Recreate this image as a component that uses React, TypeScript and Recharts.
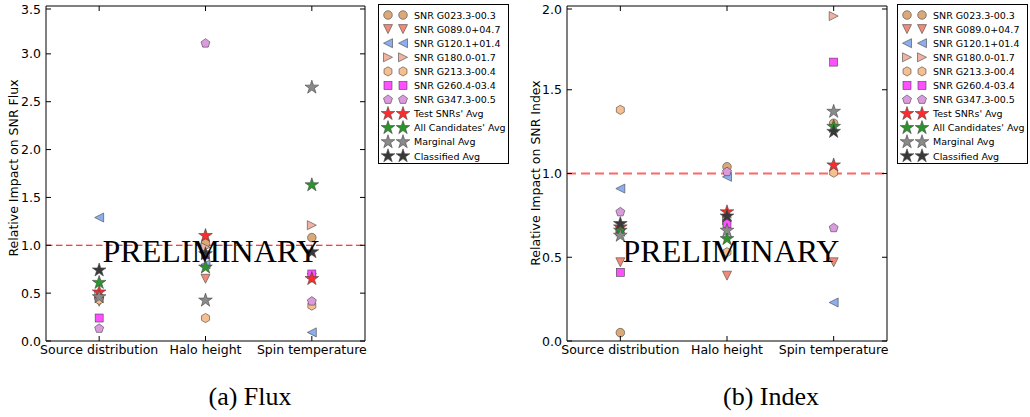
import { ScatterChart, Scatter, XAxis, YAxis, ReferenceLine, ReferenceArea } from 'recharts';

const categories = ['Source distribution', 'Halo height', 'Spin temperature'];
const fluxTicks = [0, 0.5, 1, 1.5, 2, 2.5, 3, 3.5];
const indexTicks = [0, 0.5, 1, 1.5, 2];

// values per category: [source distribution, halo height, spin temperature]
const fluxG023 = [0.45, 1.02, 1.08];
const fluxG089 = [0.41, 0.65, 0.66];
const fluxG120 = [1.29, 0.8, 0.09];
const fluxG180 = [0.48, 0.98, 1.21];
const fluxG213 = [0.43, 0.24, 0.37];
const fluxG260 = [0.24, 0.9, 0.7];
const fluxG347 = [0.13, 3.11, 0.415];
const fluxTestAvg = [0.51, 1.1, 0.65];
const fluxAllAvg = [0.61, 0.77, 1.63];
const fluxMarginalAvg = [0.46, 0.425, 2.65];
const fluxClassifiedAvg = [0.74, 0.91, 0.93];

const indexG023 = [0.05, 1.04, 1.3];
const indexG089 = [0.47, 0.39, 0.47];
const indexG120 = [0.91, 0.98, 0.23];
const indexG180 = [0.66, 0.72, 1.94];
const indexG213 = [1.38, 0.53, 1.005];
const indexG260 = [0.41, 0.7, 1.665];
const indexG347 = [0.77, 1.01, 0.675];
const indexTestAvg = [0.68, 0.77, 1.05];
const indexAllAvg = [0.66, 0.61, 1.28];
const indexMarginalAvg = [0.63, 0.66, 1.37];
const indexClassifiedAvg = [0.7, 0.745, 1.25];

type MarkerKind = 'circle' | 'down' | 'left' | 'right' | 'hexagon' | 'square' | 'pentagon' | 'star';

interface SeriesDef {
  name: string;
  marker: MarkerKind;
  fill: string;
  flux: number[];
  index: number[];
}

const series: SeriesDef[] = [
  { name: 'SNR G023.3-00.3', marker: 'circle', fill: '#dba878', flux: fluxG023, index: indexG023 },
  { name: 'SNR G089.0+04.7', marker: 'down', fill: '#f28a78', flux: fluxG089, index: indexG089 },
  { name: 'SNR G120.1+01.4', marker: 'left', fill: '#8caeee', flux: fluxG120, index: indexG120 },
  { name: 'SNR G180.0-01.7', marker: 'right', fill: '#f1b2a0', flux: fluxG180, index: indexG180 },
  { name: 'SNR G213.3-00.4', marker: 'hexagon', fill: '#f7bf8e', flux: fluxG213, index: indexG213 },
  { name: 'SNR G260.4-03.4', marker: 'square', fill: '#ff50ff', flux: fluxG260, index: indexG260 },
  { name: 'SNR G347.3-00.5', marker: 'pentagon', fill: '#dc9ade', flux: fluxG347, index: indexG347 },
  { name: "Test SNRs' Avg", marker: 'star', fill: '#ff2a2a', flux: fluxTestAvg, index: indexTestAvg },
  { name: "All Candidates' Avg", marker: 'star', fill: '#2a952a', flux: fluxAllAvg, index: indexAllAvg },
  { name: 'Marginal Avg', marker: 'star', fill: '#8a8a8a', flux: fluxMarginalAvg, index: indexMarginalAvg },
  { name: 'Classified Avg', marker: 'star', fill: '#383838', flux: fluxClassifiedAvg, index: indexClassifiedAvg },
];

const SANS = '"DejaVu Sans", sans-serif';
const SERIF = '"Liberation Serif", "DejaVu Serif", serif';
const TICK_GAP = 5;
const PLOT_H = 335;

function polygon(cx: number, cy: number, n: number, r: number, rot: number) {
  const pts: string[] = [];
  for (let i = 0; i < n; i++) {
    const a = ((rot + (i * 360) / n) * Math.PI) / 180;
    pts.push(`${cx + r * Math.cos(a)},${cy + r * Math.sin(a)}`);
  }
  return pts.join(' ');
}

function starPoints(cx: number, cy: number, r: number) {
  const pts: string[] = [];
  for (let i = 0; i < 10; i++) {
    const a = ((-90 + i * 36) * Math.PI) / 180;
    const rr = i % 2 === 0 ? r : r * 0.382;
    pts.push(`${cx + rr * Math.cos(a)},${cy + rr * Math.sin(a)}`);
  }
  return pts.join(' ');
}

function Marker({ kind, cx, cy, fill }: { kind: MarkerKind; cx: number; cy: number; fill: string }) {
  const common = { fill, stroke: '#444', strokeWidth: 0.6 };
  switch (kind) {
    case 'circle':
      return <circle cx={cx} cy={cy} r={4.3} {...common} />;
    case 'down':
      return <polygon points={`${cx - 4.5},${cy - 4.5} ${cx + 4.5},${cy - 4.5} ${cx},${cy + 4.5}`} {...common} />;
    case 'left':
      return <polygon points={`${cx + 4.5},${cy - 4.5} ${cx + 4.5},${cy + 4.5} ${cx - 4.5},${cy}`} {...common} />;
    case 'right':
      return <polygon points={`${cx - 4.5},${cy - 4.5} ${cx - 4.5},${cy + 4.5} ${cx + 4.5},${cy}`} {...common} />;
    case 'hexagon':
      return <polygon points={polygon(cx, cy, 6, 4.6, -90)} {...common} />;
    case 'square':
      return <rect x={cx - 4} y={cy - 4} width={8} height={8} {...common} />;
    case 'pentagon':
      return <polygon points={polygon(cx, cy, 5, 4.7, -90)} {...common} />;
    default:
      return <polygon points={starPoints(cx, cy, 7.2)} {...common} />;
  }
}

const makeYTick = (plotW: number) => (props: any) => {
  const { x, y, payload } = props;
  const ax = x + TICK_GAP;
  return (
    <g>
      <line x1={ax} x2={ax + 5} y1={y} y2={y} stroke="#000" />
      <line x1={ax + plotW} x2={ax + plotW - 5} y1={y} y2={y} stroke="#000" />
      <text x={x} y={y} textAnchor="end" dominantBaseline="central" fontSize={12.5} fontFamily={SANS} fill="#000">
        {Number(payload.value).toFixed(1)}
      </text>
    </g>
  );
};

const xTick = (props: any) => {
  const { x, y, payload } = props;
  const ay = y - 4;
  return (
    <g>
      <line x1={x} x2={x} y1={ay} y2={ay - 5} stroke="#000" />
      <line x1={x} x2={x} y1={ay - PLOT_H} y2={ay - PLOT_H + 5} stroke="#000" />
      <text x={x} y={y} dy="0.71em" textAnchor="middle" fontSize={12.5} fontFamily={SANS} fill="#000">
        {categories[payload.value]}
      </text>
    </g>
  );
};

function Panel({
  valueKey,
  ticks,
  yAxisWidth,
  plotW,
  lineWidth,
  lineOpacity,
  dash,
}: {
  valueKey: 'flux' | 'index';
  ticks: number[];
  yAxisWidth: number;
  plotW: number;
  lineWidth: number;
  lineOpacity: number;
  dash: string;
}) {
  const yMax = ticks[ticks.length - 1];
  return (
    <ScatterChart width={yAxisWidth + plotW + 10} height={370} margin={{ top: 6, right: 10, bottom: 0, left: 0 }}>
      <XAxis
        type="number"
        dataKey="x"
        domain={[-0.5, 2.5]}
        ticks={[0, 1, 2]}
        allowDataOverflow
        height={29}
        tickSize={0}
        tickMargin={4}
        tickLine={false}
        axisLine={false}
        tick={xTick}
      />
      <YAxis
        type="number"
        dataKey="y"
        domain={[0, yMax]}
        ticks={ticks}
        allowDataOverflow
        width={yAxisWidth}
        tickSize={0}
        tickMargin={TICK_GAP}
        tickLine={false}
        axisLine={false}
        tick={makeYTick(plotW)}
      />
      <ReferenceArea x1={-0.5} x2={2.5} y1={0} y2={yMax} fill="none" stroke="#000" strokeWidth={1} ifOverflow="visible" />
      <ReferenceLine y={1} stroke="#ff0000" strokeOpacity={lineOpacity} strokeWidth={lineWidth} strokeDasharray={dash} />
      {series.map((s) => (
        <Scatter
          key={s.name}
          name={s.name}
          data={s[valueKey].map((v, i) => ({ x: i, y: v }))}
          isAnimationActive={false}
          shape={(p: any) => <Marker kind={s.marker} cx={p.cx} cy={p.cy} fill={s.fill} />}
        />
      ))}
    </ScatterChart>
  );
}

function LegendBox({ x0, y0 }: { x0: number; y0: number }) {
  return (
    <g>
      <rect x={x0 + 0.5} y={y0 + 0.5} width={130} height={159} fill="#fff" stroke="#000" />
      {series.map((s, i) => {
        const cy = y0 + 11 + i * 14.1;
        return (
          <g key={s.name}>
            <Marker kind={s.marker} cx={x0 + 10} cy={cy} fill={s.fill} />
            <Marker kind={s.marker} cx={x0 + 25} cy={cy} fill={s.fill} />
            <text x={x0 + 36} y={cy} dominantBaseline="central" fontSize={9.5} fontFamily={SANS} fill="#000">
              {s.name}
            </text>
          </g>
        );
      })}
    </g>
  );
}

export default function App() {
  return (
    <div style={{ position: 'absolute', left: 0, top: 0, width: 1030, height: 417, background: '#fff' }}>
      <div style={{ position: 'absolute', left: 0, top: 0 }}>
        <Panel valueKey="flux" ticks={fluxTicks} yAxisWidth={46} plotW={319} lineWidth={1.1} lineOpacity={1} dash="6.5 3.5" />
      </div>
      <div style={{ position: 'absolute', left: 540, top: 0 }}>
        <Panel valueKey="index" ticks={indexTicks} yAxisWidth={27} plotW={320} lineWidth={2} lineOpacity={0.6} dash="9 5" />
      </div>
      <svg width={1030} height={417} style={{ position: 'absolute', left: 0, top: 0, pointerEvents: 'none' }}>
        <text x={211} y={262} textAnchor="middle" fontSize={32} fontFamily={SERIF} fill="#000">PRELIMINARY</text>
        <text x={731} y={262} textAnchor="middle" fontSize={32} fontFamily={SERIF} fill="#000">PRELIMINARY</text>
        <text
          transform="translate(13,168) rotate(-90)"
          textAnchor="middle"
          dominantBaseline="central"
          fontSize={12.5}
          fontFamily={SANS}
          fill="#000"
        >
          Relative Impact on SNR Flux
        </text>
        <text
          transform="translate(535,173) rotate(-90)"
          textAnchor="middle"
          dominantBaseline="central"
          fontSize={12.5}
          fontFamily={SANS}
          fill="#000"
        >
          Relative Impact on SNR Index
        </text>
        <LegendBox x0={378} y0={4} />
        <LegendBox x0={897} y0={4} />
        <text x={250} y={405} textAnchor="middle" fontSize={26} fontFamily={SERIF} fill="#000">(a) Flux</text>
        <text x={771} y={405} textAnchor="middle" fontSize={26} fontFamily={SERIF} fill="#000">(b) Index</text>
      </svg>
    </div>
  );
}
